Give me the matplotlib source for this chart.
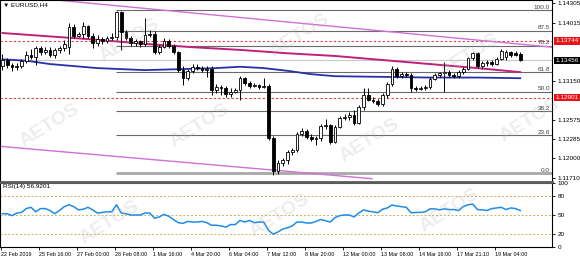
import matplotlib
matplotlib.use('Agg')
import matplotlib.pyplot as plt
import numpy as np
from matplotlib.transforms import blended_transform_factory

# ---------------- data ----------------
opens = [1.1337,1.1346,1.1339,1.1336,1.1337,1.1345,1.1353,1.1350,1.1364,1.1358,
         1.1361,1.1353,1.1361,1.1364,1.1365,1.1395,1.1382,1.1385,1.1396,1.1382,
         1.1371,1.1377,1.1374,1.1379,1.1380,1.1417,1.1388,1.1379,1.1371,1.1374,
         1.1370,1.1383,1.1385,1.1358,1.1365,1.1374,1.1367,1.1358,1.1331,1.1319,
         1.1330,1.1336,1.1334,1.1331,1.1333,1.1302,1.1306,1.1304,1.1296,1.1299,
         1.1302,1.1319,1.1312,1.1307,1.1309,1.1306,1.1307,1.1230,1.1181,1.1193,
         1.1198,1.1210,1.1213,1.1236,1.1241,1.1232,1.1229,1.1230,1.1248,1.1250,
         1.1224,1.1247,1.1260,1.1262,1.1264,1.1253,1.1276,1.1294,1.1287,1.1285,
         1.1281,1.1294,1.1310,1.1333,1.1322,1.1325,1.1324,1.1304,1.1303,1.1304,
         1.1306,1.1318,1.1324,1.1327,1.1328,1.1324,1.1322,1.1328,1.1333,1.1349,
         1.1356,1.1337,1.1342,1.1343,1.1340,1.1347,1.1350,1.1358,1.1356,1.1355]
highs = [1.1355,1.1349,1.1342,1.1342,1.1347,1.1359,1.1362,1.1367,1.1367,1.1365,
         1.1365,1.1364,1.1367,1.1376,1.1401,1.1399,1.1388,1.1402,1.1398,1.1386,
         1.1383,1.1380,1.1382,1.1386,1.1419,1.1419,1.1391,1.1382,1.1377,1.1376,
         1.1408,1.1391,1.1389,1.1368,1.1379,1.1377,1.1370,1.1359,1.1337,1.1333,
         1.1340,1.1340,1.1337,1.1337,1.1337,1.1310,1.1309,1.1307,1.1304,1.1304,
         1.1322,1.1321,1.1315,1.1312,1.1310,1.1319,1.1310,1.1233,1.1198,1.1201,
         1.1213,1.1216,1.1239,1.1245,1.1244,1.1236,1.1233,1.1251,1.1259,1.1251,
         1.1250,1.1263,1.1266,1.1269,1.1272,1.1279,1.1304,1.1304,1.1291,1.1288,
         1.1297,1.1313,1.1337,1.1336,1.1328,1.1328,1.1327,1.1307,1.1307,1.1309,
         1.1321,1.1327,1.1328,1.1343,1.1331,1.1327,1.1331,1.1336,1.1350,1.1358,
         1.1358,1.1345,1.1346,1.1346,1.1350,1.1362,1.1361,1.1359,1.1359,1.1358]
lows = [1.1331,1.1334,1.1330,1.1331,1.1334,1.1342,1.1347,1.1339,1.1353,1.1355,
        1.1350,1.1349,1.1356,1.1359,1.1355,1.1379,1.1380,1.1379,1.1379,1.1364,
        1.1367,1.1370,1.1371,1.1376,1.1376,1.1361,1.1376,1.1367,1.1367,1.1365,
        1.1367,1.1380,1.1355,1.1355,1.1364,1.1364,1.1355,1.1328,1.1309,1.1316,
        1.1327,1.1331,1.1328,1.1321,1.1294,1.1297,1.1294,1.1291,1.1291,1.1297,
        1.1287,1.1309,1.1304,1.1306,1.1303,1.1304,1.1227,1.1175,1.1177,1.1189,
        1.1192,1.1205,1.1210,1.1233,1.1229,1.1226,1.1220,1.1226,1.1244,1.1221,
        1.1223,1.1245,1.1257,1.1257,1.1250,1.1251,1.1272,1.1285,1.1282,1.1278,
        1.1278,1.1290,1.1307,1.1319,1.1319,1.1321,1.1299,1.1300,1.1302,1.1302,
        1.1303,1.1316,1.1321,1.1299,1.1321,1.1319,1.1319,1.1325,1.1331,1.1346,
        1.1334,1.1333,1.1337,1.1337,1.1339,1.1346,1.1346,1.1350,1.1352,1.1345]
closes = [1.1346,1.1339,1.1336,1.1337,1.1345,1.1353,1.1350,1.1364,1.1358,1.1361,
          1.1353,1.1361,1.1364,1.1370,1.1395,1.1382,1.1385,1.1396,1.1382,1.1371,
          1.1377,1.1374,1.1379,1.1380,1.1417,1.1388,1.1379,1.1371,1.1374,1.1370,
          1.1383,1.1385,1.1358,1.1365,1.1374,1.1367,1.1358,1.1331,1.1319,1.1330,
          1.1336,1.1334,1.1331,1.1333,1.1302,1.1306,1.1304,1.1296,1.1299,1.1302,
          1.1319,1.1312,1.1307,1.1309,1.1306,1.1307,1.1230,1.1181,1.1193,1.1198,
          1.1210,1.1213,1.1236,1.1241,1.1232,1.1229,1.1230,1.1248,1.1250,1.1224,
          1.1247,1.1260,1.1262,1.1264,1.1253,1.1276,1.1294,1.1287,1.1285,1.1281,
          1.1294,1.1310,1.1333,1.1322,1.1325,1.1324,1.1304,1.1303,1.1304,1.1306,
          1.1318,1.1324,1.1327,1.1328,1.1324,1.1322,1.1328,1.1333,1.1349,1.1356,
          1.1337,1.1342,1.1343,1.1340,1.1347,1.1359,1.1358,1.1353,1.1353,1.13456]

rsi = [52,52,49,53,54,60,62,55,60,60,
       57,52,57,63,66,63,58,59,62,58,
       53,54,55,55,66,53,52,50,50,50,
       53,53,45,47,51,48,43,38,37,40,
       39,39,40,38,34,34,33,31,35,35,
       41.5,39,41.5,38,39,39,26,20,23.6,28,
       30,33,39,39,37.5,37.5,40,43,41,39,
       46,49,50,50,47,53,58,56,55,53.5,
       59,61,65.6,64,63,62,53.5,54,54,55,
       59.6,59.6,58,59.6,58.5,58.5,57,63,66,67,
       58.5,58,57,60,61,62,58.5,61,60,56.92]

ma_slow_idx = [0,10,20,30,40,50,60,70,80,90,100,109]
ma_slow = [1.1386,1.1381,1.1376,1.1370,1.1365,1.1361,1.1356,1.1352,1.1346,1.1340,1.1334,1.1328]
ma_fast_idx = [0,5,10,20,30,40,45,50,55,60,65,70,80,90,100,109]
ma_fast = [1.1347,1.1345,1.1340,1.1334,1.1331,1.1333,1.1334,1.1336,1.1334,1.1330,1.1325,1.1322,1.1321,1.1320,1.1320,1.1319]

trend_upper_idx = [-0.53, 115.68]
trend_upper = [1.1443, 1.1365]
trend_lower_idx = [-0.53, 77.8]
trend_lower = [1.1218, 1.1170]

fib_start_idx = 23.8
fib_high = 1.1420
fib_low = 1.1178
fib_levels = [0.0, 23.6, 38.2, 50.0, 61.8, 78.2, 87.5, 100.0]

red_levels = [1.13744, 1.12901]
bid_price = 1.13456

price_ticks = [1.14305, 1.14015, 1.13150, 1.12575, 1.12285, 1.12000, 1.11710]
price_tick_labels = ['1.14305', '1.14015', '1.13150', '1.12575', '1.12285', '1.12000', '1.11710']
rsi_ticks = [0, 20, 50, 80, 100]
rsi_levels = [20, 50, 80]
date_labels = ['22 Feb 2019', '25 Feb 16:00', '27 Feb 00:00', '28 Feb 08:00', '1 Mar 16:00',
               '4 Mar 20:00', '6 Mar 04:00', '7 Mar 12:00', '8 Mar 20:00', '12 Mar 00:00',
               '13 Mar 08:00', '14 Mar 16:00', '17 Mar 21:10', '19 Mar 04:00']

# ---------------- figure ----------------
plt.rcParams['font.family'] = ['Liberation Sans', 'DejaVu Sans']
W, H = 580, 259
fig = plt.figure(figsize=(5.8, 2.59), dpi=100)
fig.patch.set_facecolor('white')

def fy(px):
    return 1 - px / H

ax = fig.add_axes([0, fy(182), 552 / W, 182 / H])
rax = fig.add_axes([0, fy(247), 552 / W, 64 / H])

xmin, xmax = -0.526, 115.68
ax.set_xlim(xmin, xmax)
ax.set_ylim(1.11651, 1.14350)
rax.set_xlim(xmin, xmax)
rax.set_ylim(0, 100)

FS = 4.6
FSX = 3.9
idx = np.arange(len(closes))
o = np.array(opens); c = np.array(closes); h = np.array(highs); l = np.array(lows)

# reference lines
ax.axhline(bid_price, color='#c8c8c8', lw=0.8, zorder=1)
for lv in red_levels:
    ax.axhline(lv, color='#e03a3a', lw=0.8, ls=(0, (2, 2)), zorder=1)

# fibonacci
for f in fib_levels:
    p = fib_low + (fib_high - fib_low) * f / 100.0
    if f == 0.0:
        ax.hlines(p, fib_start_idx, xmax, color='#a8a8a8', lw=2.0, zorder=1)
    else:
        ax.hlines(p, fib_start_idx, xmax, color='#6a6a6a', lw=0.8, zorder=1)
    ax.text(xmax - 0.4, p + 0.00004, '%.1f' % f, ha='right', va='bottom',
            fontsize=FS, color='#404040', zorder=2)

# trend lines and MAs
ax.plot(trend_upper_idx, trend_upper, color='#d070d8', lw=1.0, zorder=2)
ax.plot(trend_lower_idx, trend_lower, color='#d070d8', lw=1.0, zorder=2)
ax.plot(ma_slow_idx, ma_slow, color='#c0207a', lw=1.4, zorder=2)
ax.plot(ma_fast_idx, ma_fast, color='#2630a8', lw=1.3, zorder=2)

# candles
ax.vlines(idx, l, h, color='black', lw=0.7, zorder=3)
up = c >= o
body_bot = np.minimum(o, c)
body_h = np.maximum(np.abs(c - o), 0.00002)
ax.bar(idx[up], body_h[up], bottom=body_bot[up], width=0.62, color='white',
       edgecolor='black', linewidth=0.6, zorder=4)
ax.bar(idx[~up], body_h[~up], bottom=body_bot[~up], width=0.62, color='black',
       edgecolor='black', linewidth=0.6, zorder=4)

# axes styling main
ax.set_xticks([])
ax.yaxis.tick_right()
ax.set_yticks(price_ticks)
ax.set_yticklabels(price_tick_labels)
ax.tick_params(axis='y', direction='out', length=2, width=0.6, pad=2,
               labelsize=FS, colors='black')
for s in ['top', 'left', 'right']:
    ax.spines[s].set_color('black'); ax.spines[s].set_linewidth(0.8)
ax.spines['bottom'].set_color('#5a5a5a'); ax.spines['bottom'].set_linewidth(2.0)

bt = blended_transform_factory(ax.transAxes, ax.transData)
ax.text(1.006, red_levels[0], '1.13744', transform=bt, ha='left', va='center',
        fontsize=FS, color='white', zorder=6,
        bbox=dict(boxstyle='square,pad=0.2', fc='#e8141c', ec='none'), clip_on=False)
ax.text(1.006, red_levels[1], '1.12901', transform=bt, ha='left', va='center',
        fontsize=FS, color='white', zorder=6,
        bbox=dict(boxstyle='square,pad=0.2', fc='#e8141c', ec='none'), clip_on=False)
ax.text(1.006, bid_price, '1.13456', transform=bt, ha='left', va='center',
        fontsize=FS, color='white', zorder=6,
        bbox=dict(boxstyle='square,pad=0.2', fc='black', ec='none'), clip_on=False)

ax.text(0.006, 0.985, '\u25bc EURUSD,H4', transform=ax.transAxes, ha='left', va='top',
        fontsize=FS, color='black', zorder=6)

# RSI panel
for lv in rsi_levels:
    rax.axhline(lv, color='#c8b060', lw=0.7, ls=(0, (2, 2)), zorder=1)
rax.plot(idx, rsi, color='#1e8ce8', lw=1.1, zorder=3)
rax.text(0.006, 0.985, 'RSI(14) 56.9201', transform=rax.transAxes, ha='left', va='top',
         fontsize=FS, color='black')
rax.yaxis.tick_right()
rax.set_yticks(rsi_ticks)
rax.set_yticklabels([str(t) for t in rsi_ticks])
rax.tick_params(axis='y', direction='out', length=2, width=0.6, pad=2, labelsize=FS)
tick_pos = [8 * k - 0.3 for k in range(len(date_labels))]
rax.set_xticks(tick_pos)
rax.set_xticklabels(date_labels, ha='left')
rax.tick_params(axis='x', direction='out', length=2, width=0.6, pad=1.5, labelsize=FSX)
for s in ['bottom', 'left', 'right']:
    rax.spines[s].set_color('black'); rax.spines[s].set_linewidth(0.8)
rax.spines['top'].set_color('#5a5a5a'); rax.spines['top'].set_linewidth(1.5)

# watermarks
wm = [(300, 35), (470, 55), (130, 40), (50, 125), (200, 125), (370, 140), (530, 120),
      (110, 222), (280, 215), (450, 210)]
for (x, y) in wm:
    fig.text(x / W, 1 - y / H, 'AETOS', rotation=32, ha='center', va='center',
             fontsize=14, fontweight='bold', color='#b0b0b0', alpha=0.22, zorder=20)

fig.savefig('out.png', dpi=100, facecolor='white')
